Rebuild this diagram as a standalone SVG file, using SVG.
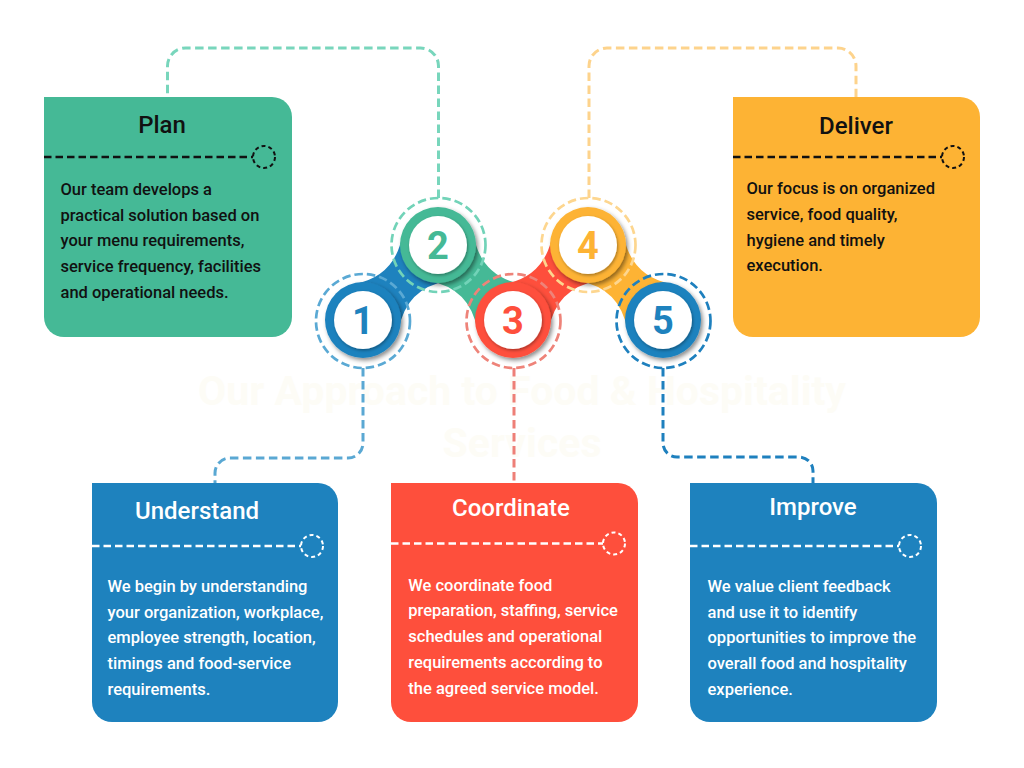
<svg xmlns="http://www.w3.org/2000/svg" width="1024" height="768" viewBox="0 0 1024 768">
<defs>
<filter id="sh" x="-30%" y="-30%" width="160%" height="160%">
<feDropShadow dx="2" dy="2.5" stdDeviation="2.2" flood-color="#000" flood-opacity="0.45"/>
</filter>
<filter id="shi" x="-30%" y="-30%" width="160%" height="160%">
<feDropShadow dx="1" dy="1.5" stdDeviation="1.5" flood-color="#000" flood-opacity="0.35"/>
</filter>
<style>
.ttl{font-family:Roboto,"Noto Sans",sans-serif;font-weight:500;font-size:24px;text-anchor:middle}
.bd{font-family:Roboto,"Noto Sans",sans-serif;font-weight:500;font-size:16.5px}
.dk{fill:#111}
.wh{fill:#fff}
.dl{fill:none;stroke-width:2.5;stroke-dasharray:7.5 4}
.dc{fill:none;stroke-width:2;stroke-dasharray:4 3}
.conn{fill:none;stroke-width:3;stroke-dasharray:8.5 4.5}
.ring{filter:url(#sh)}
.inner{fill:#fff;filter:url(#shi)}
.num{font-family:Roboto,"Noto Sans",sans-serif;font-weight:700;font-size:38px;text-anchor:middle}
.dring{fill:none;stroke-width:2.7;stroke-dasharray:8.5 4}
.title{font-family:Roboto,"Noto Sans",sans-serif;font-weight:700;font-size:41px;text-anchor:middle;fill:#FDFCF6}
</style>
</defs>
<rect width="1024" height="768" fill="#fff"/>
<g id="title">
<text class="title" x="522" y="405">Our Approach to Food &amp; Hospitality</text>
<text class="title" x="522" y="457">Services</text>
</g>
<g id="connectors">
<path class="conn" stroke="#78D6BC" d="M438.5 198 V66 A18 18 0 0 0 420.5 48 H185.5 A18 18 0 0 0 167.5 66 V97"/>
<path class="conn" stroke="#FDD38C" d="M589 198 V66 A18 18 0 0 1 607 48 H838 A18 18 0 0 1 856 66 V102"/>
<path class="conn" stroke="#5AA8D3" d="M363 368 V443 A15 15 0 0 1 348 458 H230 A15 15 0 0 0 215 473 V483"/>
<path class="conn" stroke="#EE7F77" d="M514 368 V483"/>
<path class="conn" stroke="#1E80BE" d="M663 368 V443 A14 14 0 0 0 677 457 H799 A14 14 0 0 1 813 471 V483"/>
</g>
<g id="chain">
<path fill="#1E82BE" d="M353.45,284.29 Q394.84,276.84 402.29,235.45 L447.55,280.71 Q406.16,288.16 398.71,329.55 Z"/>
<path fill="#45B996" d="M473.71,235.45 Q481.16,276.84 522.55,284.29 L477.29,329.55 Q469.84,288.16 428.45,280.71 Z"/>
<path fill="#FE4F3C" d="M503.45,284.29 Q544.84,276.84 552.29,235.45 L597.55,280.71 Q556.16,288.16 548.71,329.55 Z"/>
<path fill="#FDB334" d="M623.71,235.45 Q631.16,276.84 672.55,284.29 L627.29,329.55 Q619.84,288.16 578.45,280.71 Z"/>
</g>
<g id="step1">
<circle class="ring" cx="363" cy="320" r="38" fill="#1E82BE"/>
<circle class="inner" cx="363" cy="320" r="29"/>
<text class="num" x="363" y="334" fill="#1E82BE">1</text>
<circle class="dring" cx="363" cy="321" r="47" stroke="#5AA9D4"/>
</g>
<g id="step2">
<circle class="ring" cx="438" cy="245" r="38" fill="#45B996"/>
<circle class="inner" cx="438" cy="245" r="29"/>
<text class="num" x="438" y="259" fill="#45B996">2</text>
<circle class="dring" cx="438.5" cy="245" r="47" stroke="#72D3B8"/>
</g>
<g id="step3">
<circle class="ring" cx="513" cy="320" r="38" fill="#FE4F3C"/>
<circle class="inner" cx="513" cy="320" r="29"/>
<text class="num" x="513" y="334" fill="#FE4F3C">3</text>
<circle class="dring" cx="513.5" cy="321" r="47" stroke="#EE8379"/>
</g>
<g id="step4">
<circle class="ring" cx="588" cy="245" r="38" fill="#FDB334"/>
<circle class="inner" cx="588" cy="245" r="29"/>
<text class="num" x="588" y="259" fill="#FDB334">4</text>
<circle class="dring" cx="588.5" cy="245" r="47" stroke="#FDD68F"/>
</g>
<g id="step5">
<circle class="ring" cx="663" cy="320" r="38" fill="#1E82BE"/>
<circle class="inner" cx="663" cy="320" r="29"/>
<text class="num" x="663" y="334" fill="#1E82BE">5</text>
<circle class="dring" cx="663.5" cy="321" r="47" stroke="#1E80BE"/>
</g>
<g id="plan">
<path fill="#45B996" d="M44 97 H272 A20 20 0 0 1 292 117 V317 A20 20 0 0 1 272 337 H64 A20 20 0 0 1 44 317 Z"/>
<text class="ttl dk" x="162" y="133">Plan</text>
<line class="dl" stroke="#111" x1="44" y1="157" x2="253" y2="157"/>
<circle class="dc" stroke="#111" cx="264" cy="157" r="11"/>
<text class="bd dk"><tspan x="60.5" y="195">Our team develops a</tspan><tspan x="60.5" y="220.7">practical solution based on</tspan><tspan x="60.5" y="246.4">your menu requirements,</tspan><tspan x="60.5" y="272.1">service frequency, facilities</tspan><tspan x="60.5" y="297.8">and operational needs.</tspan></text>
</g>
<g id="deliver">
<path fill="#FDB334" d="M733 97 H960 A20 20 0 0 1 980 117 V317 A20 20 0 0 1 960 337 H753 A20 20 0 0 1 733 317 Z"/>
<text class="ttl dk" x="856" y="134">Deliver</text>
<line class="dl" stroke="#111" x1="733" y1="157" x2="942" y2="157"/>
<circle class="dc" stroke="#111" cx="953" cy="157" r="11"/>
<text class="bd dk"><tspan x="746.5" y="194">Our focus is on organized</tspan><tspan x="746.5" y="219.8">service, food quality,</tspan><tspan x="746.5" y="245.6">hygiene and timely</tspan><tspan x="746.5" y="271.4">execution.</tspan></text>
</g>
<g id="understand">
<path fill="#1E82BE" d="M92 483 H318 A20 20 0 0 1 338 503 V702 A20 20 0 0 1 318 722 H112 A20 20 0 0 1 92 702 Z"/>
<text class="ttl wh" x="197" y="519">Understand</text>
<line class="dl" stroke="#fff" x1="92" y1="546" x2="301" y2="546"/>
<circle class="dc" stroke="#fff" cx="312" cy="546" r="11"/>
<text class="bd wh"><tspan x="107.5" y="591.7">We begin by understanding</tspan><tspan x="107.5" y="617.5">your organization, workplace,</tspan><tspan x="107.5" y="643.3">employee strength, location,</tspan><tspan x="107.5" y="669.1">timings and food-service</tspan><tspan x="107.5" y="694.9">requirements.</tspan></text>
</g>
<g id="coordinate">
<path fill="#FE4F3C" d="M391 483 H618 A20 20 0 0 1 638 503 V702 A20 20 0 0 1 618 722 H411 A20 20 0 0 1 391 702 Z"/>
<text class="ttl wh" x="511" y="516">Coordinate</text>
<line class="dl" stroke="#fff" x1="391" y1="543.5" x2="603" y2="543.5"/>
<circle class="dc" stroke="#fff" cx="614" cy="543.5" r="11"/>
<text class="bd wh"><tspan x="408.3" y="590.7">We coordinate food</tspan><tspan x="408.3" y="616.4">preparation, staffing, service</tspan><tspan x="408.3" y="642.1">schedules and operational</tspan><tspan x="408.3" y="667.8">requirements according to</tspan><tspan x="408.3" y="693.5">the agreed service model.</tspan></text>
</g>
<g id="improve">
<path fill="#1E82BE" d="M690 483 H917 A20 20 0 0 1 937 503 V702 A20 20 0 0 1 917 722 H710 A20 20 0 0 1 690 702 Z"/>
<text class="ttl wh" x="813" y="515">Improve</text>
<line class="dl" stroke="#fff" x1="690" y1="546" x2="899" y2="546"/>
<circle class="dc" stroke="#fff" cx="910" cy="546" r="11"/>
<text class="bd wh"><tspan x="707.5" y="591.7">We value client feedback</tspan><tspan x="707.5" y="617.5">and use it to identify</tspan><tspan x="707.5" y="643.3">opportunities to improve the</tspan><tspan x="707.5" y="669.1">overall food and hospitality</tspan><tspan x="707.5" y="694.9">experience.</tspan></text>
</g>
</svg>
